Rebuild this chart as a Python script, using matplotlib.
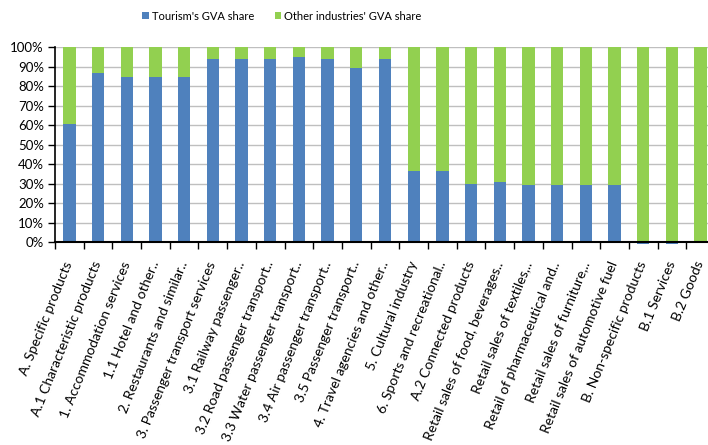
import numpy as np
import matplotlib
matplotlib.use("Agg")
import matplotlib.pyplot as plt
from matplotlib.ticker import PercentFormatter, FixedLocator

plt.rcParams['font.family'] = ['Lato', 'DejaVu Sans']

categories = [
    "A. Specific products", "A.1 Characteristic products", "1. Accommodation services",
    "1.1 Hotel and other..", "2. Restaurants and similar..", "3. Passenger transport services",
    "3.1 Railway passenger..", "3.2 Road passenger transport..", "3.3 Water passenger transport..",
    "3.4 Air passenger transport..", "3.5 Passenger transport..", "4. Travel agencies and other..",
    "5. Cultural industry", "6. Sports and recreational..", "A.2 Connected products",
    "Retail sales of food, beverages..", "Retail sales of textiles,..", "Retail of pharmaceutical and..",
    "Retail sales of furniture,..", "Retail sales of automotive fuel", "B. Non-specific products",
    "B.1 Services", "B.2 Goods",
]
tourism = [60.5, 87, 85, 85, 85, 94, 94, 94, 95, 94, 89.5, 94,
           36.5, 36.5, 30, 31, 29.5, 29.5, 29.5, 29.5, -0.7, -0.7, 0]
other = [100 - t if t >= 0 else 100 for t in tourism]

blue = "#4F81BD"
green = "#92D050"

fig = plt.figure(figsize=(7.08, 4.45), dpi=100)
ax = fig.add_axes([55 / 708, 1 - 242.3 / 445, 660 / 708, 195 / 445])

x = np.arange(len(categories))
w = 0.43
ax.bar(x, other, w, bottom=[max(t, 0) for t in tourism], color=green,
       label="Other industries' GVA share", zorder=3)
ax.bar(x, tourism, w, color=blue, label="Tourism's GVA share", zorder=3, clip_on=False)

ax.set_xlim(-0.5, len(categories) - 0.5)
ax.set_ylim(0, 100)
ax.yaxis.set_major_locator(FixedLocator(np.arange(0, 101, 10)))
ax.yaxis.set_major_formatter(PercentFormatter(decimals=0))
ax.grid(axis='y', color='#BFBFBF', linewidth=1, zorder=0)

ax.set_xticks(x)
ax.set_xticklabels(categories, rotation=68, ha='right', va='center',
                   rotation_mode='anchor', fontsize=10)
ax.set_xticks(np.arange(-0.5, len(categories) + 0.5, 1), minor=True)
ax.tick_params(axis='x', which='major', length=0, pad=14)
ax.tick_params(axis='x', which='minor', length=5, width=1, direction='out')
ax.tick_params(axis='y', length=5, width=1, labelsize=9.5, pad=3)

for s in ['top', 'right']:
    ax.spines[s].set_visible(False)
ax.spines['left'].set_linewidth(1.2)
ax.spines['bottom'].set_linewidth(1.5)
ax.spines['bottom'].set_zorder(4)

h, l = ax.get_legend_handles_labels()
fig.legend(h[::-1], l[::-1], loc='center', bbox_to_anchor=(282 / 708, 1 - 16 / 445), ncol=2,
           frameon=False, fontsize=8, handlelength=0.6, handleheight=0.6,
           handletextpad=0.3, columnspacing=1.8)

fig.savefig("out.png", dpi=100)
